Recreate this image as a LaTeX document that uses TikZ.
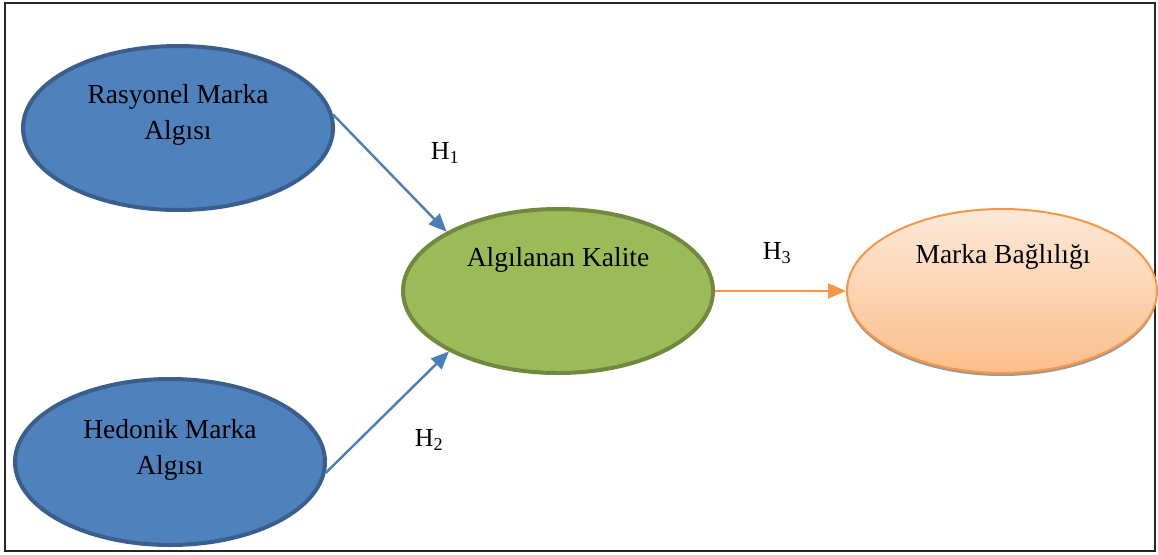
\documentclass[tikz,border=0pt]{standalone}
\usepackage{fontspec}
\setmainfont{Liberation Serif}
\usetikzlibrary{arrows.meta,shapes.geometric,shadows}
\definecolor{bfill}{HTML}{4F81BD}
\definecolor{bdraw}{HTML}{3A5F8C}
\definecolor{gfill}{HTML}{9BBB59}
\definecolor{gdraw}{HTML}{71893F}
\definecolor{odraw}{HTML}{F79646}
\definecolor{otop}{HTML}{FDE9D9}
\definecolor{obot}{HTML}{FBBE8B}
\definecolor{barrow}{HTML}{4A7EBB}
\begin{document}
\begin{tikzpicture}[x=1pt,y=-1pt,
  ell/.style={ellipse, inner sep=0pt, minimum width=310pt, minimum height=164pt},
  blueell/.style={ell, fill=bfill, draw=bdraw, line width=4pt},
  greenell/.style={ell, fill=gfill, draw=gdraw, line width=4pt},
  orangeell/.style={ell, draw=odraw, line width=2pt, top color=otop, bottom color=obot,
     drop shadow={shadow xshift=0pt, shadow yshift=-3pt, fill=black!40, opacity=1}},
  txt/.style={font=\fontsize{27.5}{36}\selectfont, align=center, inner sep=0pt},
  hyp/.style={font=\fontsize{26}{30}\selectfont, inner sep=0pt},
  barr/.style={draw=barrow, line width=2.4pt, -{Triangle[length=18pt,width=15pt]}},
  oarr/.style={draw=odraw, line width=2.4pt, -{Triangle[length=18pt,width=15pt]}}
]
\useasboundingbox (0,0) rectangle (1158,554);
\draw[line width=1.5pt, draw=black!85] (5,3) rectangle (1155,551);
\node[blueell, minimum height=164pt] (r) at (178,128) {};
\node[blueell, minimum height=166pt] (h) at (170,462) {};
\node[greenell] (k) at (558,291) {};
\node[orangeell] (m) at (1002,291) {};
\node[txt] (rt) at (178,115) {Rasyonel Marka\\Algısı};
\node[txt] (ht) at (170,450) {Hedonik Marka\\Algısı};
\node[txt] (kt) at (558,260) {Algılanan Kalite};
\node[txt] (mt) at (1003,257) {Marka Bağlılığı};
\draw[barr] (r.5.5) -- (k.152.4);
\draw[barr] (h.-4.8) -- (k.209);
\draw[oarr] (k.east) -- (m.west);
\node[hyp] (h1) at (445,153) {H\textsubscript{1}};
\node[hyp] (h2) at (429,440) {H\textsubscript{2}};
\node[hyp] (h3) at (777,253) {H\textsubscript{3}};
\end{tikzpicture}
\end{document}
